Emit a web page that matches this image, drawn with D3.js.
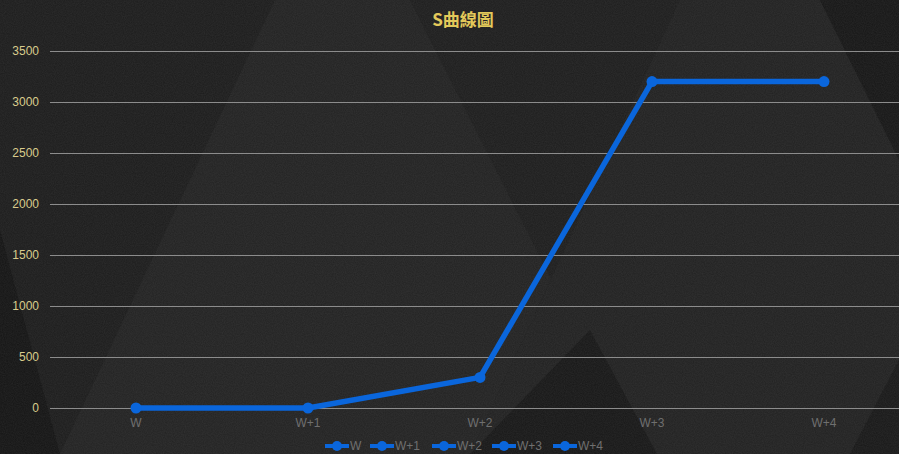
<!DOCTYPE html>
<html>
<head>
<meta charset="utf-8">
<script src="https://cdn.jsdelivr.net/npm/d3@7"></script>
<style>
  body { margin: 0; background: #1e1e1e; overflow: hidden; }
  svg { display: block; }
</style>
</head>
<body>
<svg id="chart"></svg>
<script>
const categories = ['W', 'W+1', 'W+2', 'W+3', 'W+4'];
const values = [0, 0, 300, 3200, 3200];
const yTicks = [0, 500, 1000, 1500, 2000, 2500, 3000, 3500];
const title = 'S曲線圖';

const width = 899;
const height = 454;
const margin = { top: 51, right: -11, bottom: 46, left: 50 };

const svg = d3.select('#chart')
  .attr('width', width)
  .attr('height', height);

// background: dark texture with big diagonal facets
const defs = svg.append('defs');
const noise = defs.append('filter').attr('id', 'grain')
  .attr('x', 0).attr('y', 0).attr('width', '100%').attr('height', '100%');
noise.append('feTurbulence')
  .attr('type', 'fractalNoise').attr('baseFrequency', 0.9).attr('numOctaves', 2).attr('seed', 3);
noise.append('feColorMatrix')
  .attr('type', 'matrix')
  .attr('values', '0 0 0 0 0.3  0 0 0 0 0.3  0 0 0 0 0.3  0 0 0 0.14 0');

svg.append('rect').attr('width', width).attr('height', height).attr('fill', '#1f1f1f');

const facets = [
  { pts: [[0, 0], [275, 0], [60, 454], [0, 454]], fill: '#1c1c1c' },
  { pts: [[0, 230], [60, 454], [0, 454]], fill: '#141414' },
  { pts: [[275, 0], [410, 0], [640, 454], [60, 454]], fill: '#222222' },
  { pts: [[410, 0], [680, 0], [470, 454], [640, 454]], fill: '#1d1d1d' },
  { pts: [[680, 0], [820, 0], [899, 160], [899, 360], [850, 454], [470, 454]], fill: '#212121' },
  { pts: [[590, 330], [657, 454], [470, 454]], fill: '#171717' },
  { pts: [[820, 0], [899, 0], [899, 160]], fill: '#161616' },
  { pts: [[899, 360], [899, 454], [850, 454]], fill: '#181818' }
];
svg.append('g').selectAll('polygon')
  .data(facets)
  .enter()
  .append('polygon')
  .attr('points', d => d.pts.map(p => p.join(',')).join(' '))
  .attr('fill', d => d.fill);

svg.append('rect').attr('width', width).attr('height', height)
  .attr('filter', 'url(#grain)');

const x = d3.scaleBand()
  .domain(categories)
  .range([margin.left, width - margin.right]);

const y = d3.scaleLinear()
  .domain([0, 3500])
  .range([height - margin.bottom, margin.top]);

// grid lines
svg.append('g')
  .selectAll('line')
  .data(yTicks)
  .enter()
  .append('line')
  .attr('x1', margin.left)
  .attr('x2', width)
  .attr('y1', d => Math.round(y(d)) + 0.5)
  .attr('y2', d => Math.round(y(d)) + 0.5)
  .attr('stroke', '#8c8c8c')
  .attr('stroke-width', 1);

// y axis labels
svg.append('g')
  .selectAll('text')
  .data(yTicks)
  .enter()
  .append('text')
  .attr('x', 39)
  .attr('y', d => y(d) + 4)
  .attr('text-anchor', 'end')
  .attr('fill', '#d9cc8c')
  .style('font', '12px "Liberation Sans", Arial, sans-serif')
  .text(d => d);

// x axis labels
svg.append('g')
  .selectAll('text')
  .data(categories)
  .enter()
  .append('text')
  .attr('x', d => x(d) + x.bandwidth() / 2)
  .attr('y', 427)
  .attr('text-anchor', 'middle')
  .attr('fill', '#6f6f6f')
  .style('font', '12px "Liberation Sans", Arial, sans-serif')
  .text(d => d);

// title
svg.append('text')
  .attr('x', 463)
  .attr('y', 26)
  .attr('text-anchor', 'middle')
  .attr('fill', '#e3c95a')
  .style('font', 'bold 17px "Noto Sans CJK TC", sans-serif')
  .text(title);

const blue = '#0a66dc';
const line = d3.line()
  .x((d, i) => x(categories[i]) + x.bandwidth() / 2)
  .y(d => y(d));

svg.append('path')
  .datum(values)
  .attr('d', line)
  .attr('fill', 'none')
  .attr('stroke', blue)
  .attr('stroke-width', 5.5)
  .attr('stroke-linejoin', 'round');

svg.append('g')
  .selectAll('circle')
  .data(values)
  .enter()
  .append('circle')
  .attr('cx', (d, i) => x(categories[i]) + x.bandwidth() / 2)
  .attr('cy', d => y(d))
  .attr('r', 5.5)
  .attr('fill', blue);

// legend
const legendX = d3.scaleOrdinal()
  .domain(categories)
  .range([325, 370, 432, 492, 553]);

const legend = svg.append('g')
  .selectAll('g')
  .data(categories)
  .enter()
  .append('g')
  .attr('transform', d => 'translate(' + legendX(d) + ',446)');

legend.append('line')
  .attr('x1', 0).attr('x2', 24)
  .attr('stroke', blue)
  .attr('stroke-width', 4);

legend.append('circle')
  .attr('cx', 12)
  .attr('r', 5)
  .attr('fill', blue);

legend.append('text')
  .attr('x', 25)
  .attr('y', 4)
  .attr('fill', '#6f6f6f')
  .style('font', '12px "Liberation Sans", Arial, sans-serif')
  .text(d => d);
</script>
</body>
</html>
